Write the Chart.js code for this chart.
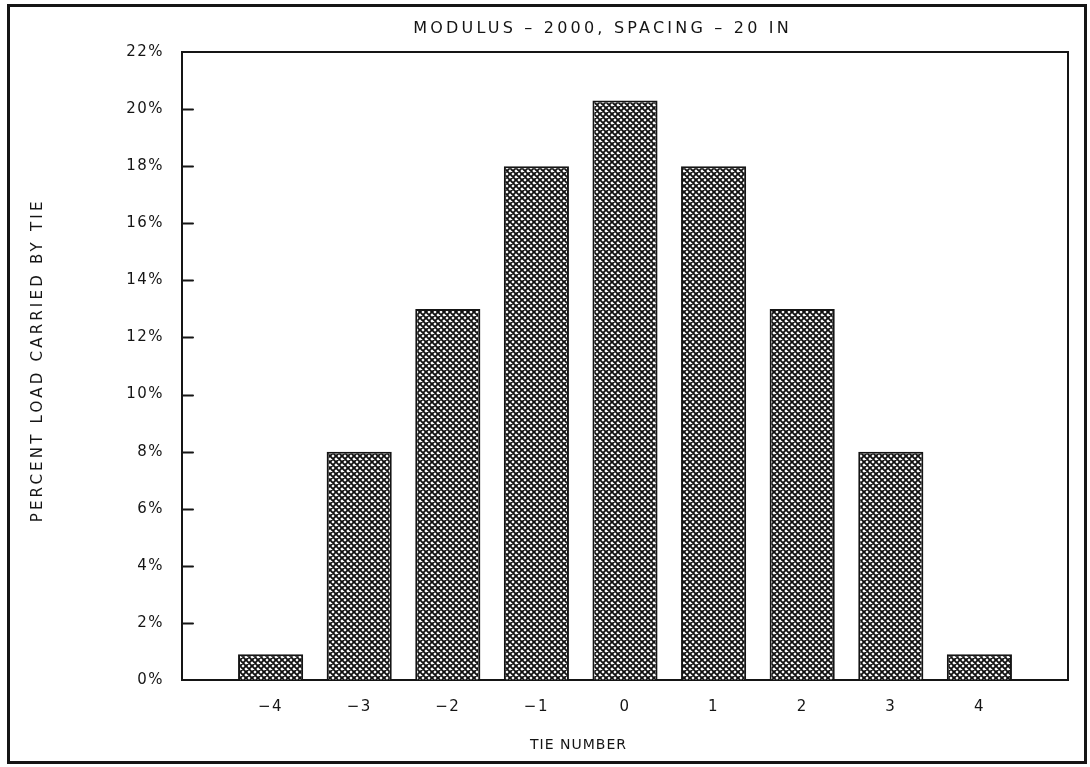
<!DOCTYPE html>
<html lang="en">
<head>
  <meta charset="UTF-8" />
  <title>Percent Load Carried by Tie</title>
  <script src="https://cdn.jsdelivr.net/npm/chart.js"></script>
  <style>
    * {
      margin: 0;
      padding: 0;
      box-sizing: border-box;
    }

    body {
      background: #fff;
      width: 1090px;
      height: 767px;
      overflow: hidden;
    }

    canvas {
      display: block;
    }
  </style>
</head>
<body>
  <canvas id="tieChart" width="1090" height="767"></canvas>

  <script>
    const tieNumbers = [-4, -3, -2, -1, 0, 1, 2, 3, 4];
    const loadPercent = [0.9, 8.0, 13.0, 18.0, 20.3, 18.0, 13.0, 8.0, 0.9];
    const yMax = 22;
    const yStep = 2;
    const titleText = 'MODULUS – 2000, SPACING – 20 IN';
    const xTitle = 'TIE NUMBER';
    const yTitle = 'PERCENT LOAD CARRIED BY TIE';

    const ink = '#151515';
    const font = '"DejaVu Sans", sans-serif';

    // empty slot at each end so the bars sit on a -5..5 grid
    const xLabels = ['', ...tieNumbers.map(n => n < 0 ? '−' + Math.abs(n) : String(n)), ''];
    const barData = [null, ...loadPercent, null];

    const ctx = document.getElementById('tieChart').getContext('2d');

    // dense cross-hatch fill for the bars
    const hatch = (function () {
      const s = 6;
      const c = document.createElement('canvas');
      c.width = c.height = s;
      const g = c.getContext('2d');
      g.fillStyle = '#fff';
      g.fillRect(0, 0, s, s);
      g.strokeStyle = '#111';
      g.lineWidth = 1.9;
      g.beginPath();
      g.moveTo(-1, -1); g.lineTo(s + 1, s + 1);
      g.moveTo(-1, s - 1); g.lineTo(1, s + 1);
      g.moveTo(s - 1, -1); g.lineTo(s + 1, 1);
      g.moveTo(s + 1, -1); g.lineTo(-1, s + 1);
      g.moveTo(1, -1); g.lineTo(-1, 1);
      g.moveTo(s + 1, s - 1); g.lineTo(s - 1, s + 1);
      g.stroke();
      return ctx.createPattern(c, 'repeat');
    })();

    function spacedText(c, text, x, y, size, spacing, rotate) {
      c.save();
      c.font = size + 'px ' + font;
      c.letterSpacing = spacing + 'px';
      c.textAlign = 'center';
      c.textBaseline = 'middle';
      c.translate(x, y);
      if (rotate) c.rotate(-Math.PI / 2);
      c.fillText(text, spacing / 2, 0);
      c.restore();
    }

    // box around the plot, inward y ticks, page frame and titles
    const framePlugin = {
      id: 'frame',
      beforeLayout(chart) {
        chart.ctx.letterSpacing = '1.5px';
      },
      beforeDraw(chart) {
        const c = chart.ctx;
        c.save();
        c.fillStyle = '#fff';
        c.fillRect(0, 0, chart.width, chart.height);
        c.restore();
        c.letterSpacing = '1.5px';
      },
      afterDraw(chart) {
        const c = chart.ctx;
        const a = chart.chartArea;
        const y = chart.scales.y;
        c.save();
        c.strokeStyle = ink;
        c.lineWidth = 2;
        c.lineCap = 'round';
        c.beginPath();
        c.moveTo(a.left, a.top);
        c.lineTo(a.right, a.top);
        c.lineTo(a.right, a.bottom);
        y.ticks.forEach(t => {
          if (t.value <= 0 || t.value >= yMax) return;
          const py = Math.round(y.getPixelForValue(t.value)) + 0.5;
          c.moveTo(a.left, py);
          c.lineTo(a.left + 11, py);
        });
        c.stroke();

        c.lineWidth = 3;
        c.strokeRect(8.5, 5.5, 1077, 757);

        c.fillStyle = ink;
        spacedText(c, titleText, 601, 29, 16, 3.2, false);
        spacedText(c, xTitle, 578, 745, 14, 1, false);
        spacedText(c, yTitle, 38, 362, 15, 3.2, true);
        c.restore();
      }
    };

    new Chart(ctx, {
      type: 'bar',
      data: {
        labels: xLabels,
        datasets: [{
          data: barData,
          backgroundColor: hatch,
          borderColor: ink,
          borderWidth: 2,
          categoryPercentage: 1,
          barPercentage: 0.735
        }]
      },
      options: {
        responsive: false,
        animation: false,
        layout: { padding: { top: 52, right: 22, left: 0, bottom: 0 } },
        plugins: {
          legend: { display: false },
          tooltip: { enabled: false },
          title: { display: false }
        },
        scales: {
          x: {
            offset: false,
            grid: { display: false },
            border: { display: true, color: ink, width: 2 },
            ticks: {
              color: ink,
              font: { family: font, size: 15 },
              padding: 10,
              maxRotation: 0,
              autoSkip: false
            },
            afterFit(scale) { scale.height = 87; }
          },
          y: {
            min: 0,
            max: yMax,
            grid: { display: false },
            border: { display: true, color: ink, width: 2 },
            ticks: {
              stepSize: yStep,
              color: ink,
              font: { family: font, size: 15 },
              padding: 10,
              callback: v => v + '%'
            },
            afterFit(scale) { scale.width = 182; }
          }
        }
      },
      plugins: [framePlugin]
    });
  </script>
</body>
</html>
